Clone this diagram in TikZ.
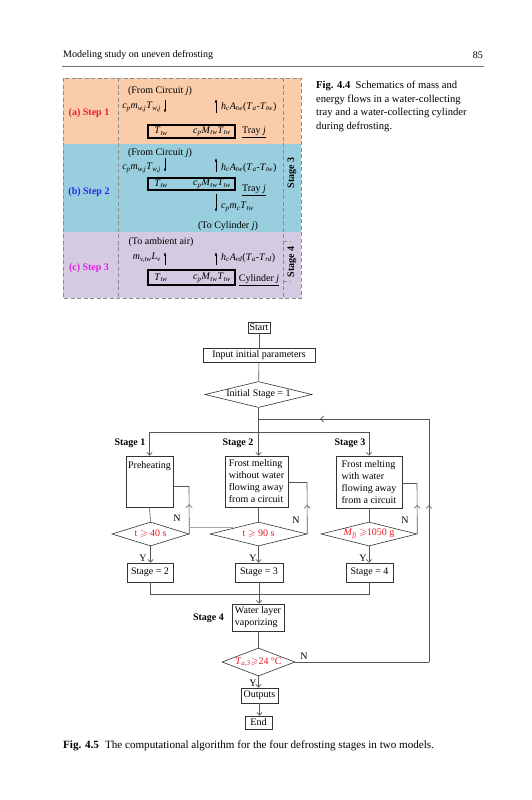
\documentclass[tikz,border=0pt]{standalone}
\usepackage{amsmath,amssymb}
\usepackage{fontspec}
\setmainfont{Liberation Serif}
\usetikzlibrary{shapes.geometric,arrows.meta,decorations.markings}
\definecolor{peach}{RGB}{250,204,170}
\definecolor{skyb}{RGB}{152,206,221}
\definecolor{lilac}{RGB}{212,202,226}
\definecolor{lnc}{RGB}{85,85,85}
\definecolor{dsh}{RGB}{140,140,140}
\definecolor{stepred}{RGB}{235,30,40}
\definecolor{stepblue}{RGB}{40,40,235}
\definecolor{stepmag}{RGB}{230,30,230}
\definecolor{condred}{RGB}{235,25,35}
\newcommand\tenpt{\fontsize{10}{12}\selectfont}
\newcommand\capfont{\fontsize{10.6}{13.5}\selectfont}
\newcommand\capbfont{\fontsize{11.1}{13.5}\selectfont}
\newcommand\hdrfont{\fontsize{10}{12}\selectfont}
\newcommand\vi[1]{\textit{#1}}
\newcommand\sbs[1]{\textsubscript{\textit{#1}}}
\tikzset{
  txt/.style={inner sep=0pt, font=\tenpt},
  fbox/.style={draw=black!80, line width=0.6pt, inner sep=0pt, font=\tenpt},
  dmd/.style={draw=black!80, line width=0.6pt, diamond, inner sep=0pt, aspect=1},
  dtext/.style={txt, text=condred},
  conn/.style={draw=lnc, line width=0.6pt},
  arr/.style={conn, -{Straight Barb[length=3pt,width=5.5pt]}},
  midarr/.style={conn, postaction={decorate}, decoration={markings, mark=at position #1 with {\arrow{Straight Barb[length=3pt,width=6pt]}}}},
  sarr/.style={line width=0.5pt, -{Latex[length=3.5pt,width=2.4pt]}},
  steplab/.style={txt, font=\tenpt\bfseries},
  dline/.style={draw=dsh, line width=0.5pt, dash pattern=on 4pt off 2.5pt},
  mbox/.style={draw=black, line width=1.1pt, inner sep=0pt, minimum width=87pt},
}
\begin{document}
\begin{tikzpicture}[x=1pt,y=-1pt]
\path[use as bounding box, fill=white] (0,0) rectangle (531,800);

% ---------- header ----------
\node[txt, font=\hdrfont, anchor=west] (hdr) at (63,55) {Modeling study on uneven defrosting};
\node[txt, font=\hdrfont, anchor=east] (pg) at (483,55) {85};
\coordinate (rl) at (62,66); \coordinate (rr) at (484,66);
\draw[line width=0.5pt, black!55] (rl) -- (rr);

% ---------- Fig 4.4 ----------
\fill[peach] (63,78) rectangle (301,144);
\fill[skyb] (63,144) rectangle (301,232);
\fill[lilac] (63,232) rectangle (301,298);
\draw[dline] (63,78) rectangle (301,298);
\draw[dline] (118,78) -- (118,298);
\draw[dline] (283,78) -- (283,298);
\draw[dline] (283,241) -- (290,241);
\draw[dline] (283,281) -- (290,281);

% step 1
\node[steplab, text=stepred] (st1) at (89,113) {(a) Step 1};
\node[txt] (fc1) at (160,91) {(From Circuit \vi{j})};
\node[txt, anchor=east] (in1) at (161,107) {\vi{c}\sbs{p}\vi{m}\sbs{w,j}\vi{T}\sbs{w,j}};
\node[txt, anchor=west] (h1) at (221,107) {\vi{h}\sbs{c}\vi{A}\sbs{tw}(\vi{T}\sbs{a}-\vi{T}\sbs{tw})};
\node[mbox, minimum height=13pt] (box1) at (191.5,131.5) {};
\node[txt] (t1) at (161,131.5) {\vi{T}\sbs{tw}};
\node[txt] (c1) at (212,131.5) {\vi{c}\sbs{p}\vi{M}\sbs{tw}\vi{T}\sbs{tw}};
\node[txt, inner ysep=1.5pt] (tr1) at (254,131) {Tray \vi{j}};
\draw[line width=0.5pt] (tr1.south west) -- (tr1.south east);
\coordinate (a1s) at (165,100); \coordinate (a1e) at (165,113);
\coordinate (b1s) at (216,113); \coordinate (b1e) at (216,99);
\draw[sarr] (a1s) -- (a1e);
\draw[sarr] (b1s) -- (b1e);

% step 2
\node[steplab, text=stepblue] (st2) at (89,192) {(b) Step 2};
\node[txt] (fc2) at (160,153) {(From Circuit \vi{j})};
\node[txt, anchor=east] (in2) at (161,168) {\vi{c}\sbs{p}\vi{m}\sbs{w,j}\vi{T}\sbs{w,j}};
\node[txt, anchor=west] (h2) at (221,168) {\vi{h}\sbs{c}\vi{A}\sbs{tw}(\vi{T}\sbs{a}-\vi{T}\sbs{tw})};
\node[mbox, minimum height=12pt] (box2) at (191.5,184) {};
\node[txt] (t2) at (161,184) {\vi{T}\sbs{tw}};
\node[txt] (c2) at (212,184) {\vi{c}\sbs{p}\vi{M}\sbs{tw}\vi{T}\sbs{tw}};
\node[txt, inner ysep=1.5pt] (tr2) at (254,189) {Tray \vi{j}};
\draw[line width=0.5pt] (tr2.south west) -- (tr2.south east);
\node[txt, anchor=west] (o2) at (221,207) {\vi{c}\sbs{p}\vi{m}\sbs{c}\vi{T}\sbs{tw}};
\node[txt] (tc2) at (228,226) {(To Cylinder \vi{j})};
\node[txt, rotate=90, font=\tenpt\bfseries] (sg3) at (292,173) {Stage 3};
\coordinate (a2s) at (165,158); \coordinate (a2e) at (165,172);
\coordinate (b2s) at (216,172); \coordinate (b2e) at (216,158);
\coordinate (e2s) at (216,194); \coordinate (e2e) at (216,212);
\draw[sarr] (a2s) -- (a2e);
\draw[sarr] (b2s) -- (b2e);
\draw[sarr] (e2s) -- (e2e);

% step 3
\node[steplab, text=stepmag] (st3) at (89,268) {(c) Step 3};
\node[txt] (ta3) at (161,242) {(To ambient air)};
\node[txt, anchor=east] (m3) at (161,258) {\vi{m}\sbs{v,tw}\vi{L}\sbs{v}};
\node[txt, anchor=west] (h3) at (221,258) {\vi{h}\sbs{c}\vi{A}\sbs{rd}(\vi{T}\sbs{a}-\vi{T}\sbs{rd})};
\node[mbox, minimum height=15pt] (box3) at (191.5,277.5) {};
\node[txt] (t3) at (161,278) {\vi{T}\sbs{tw}};
\node[txt] (c3) at (212,278) {\vi{c}\sbs{p}\vi{M}\sbs{tw}\vi{T}\sbs{tw}};
\node[txt, inner ysep=1.5pt] (cy3) at (259,279) {Cylinder \vi{j}};
\draw[line width=0.5pt] (cy3.south west) -- (cy3.south east);
\node[txt, rotate=90, font=\tenpt\bfseries] (sg4) at (292,262) {Stage 4};
\coordinate (a3s) at (165,265); \coordinate (a3e) at (165,252);
\coordinate (b3s) at (216,265); \coordinate (b3e) at (216,252);
\draw[sarr] (a3s) -- (a3e);
\draw[sarr] (b3s) -- (b3e);

% caption 4.4
\node[txt, font=\capfont, align=left, anchor=north west] (cap44) at (316,81)
  {\textbf{Fig. 4.4}\hspace{0.25em} Schematics of mass and\\energy flows in a water-collecting\\tray and a water-collecting cylinder\\during defrosting.};

% ---------- Fig 4.5 flowchart ----------
\node[fbox, minimum width=22pt, minimum height=11pt] (start) at (259,327.5) {Start};
\node[fbox, minimum width=112pt, minimum height=14pt] (input) at (259,355) {Input initial parameters};
\node[dmd, minimum width=107pt, minimum height=26pt] (d0) at (258.5,394.5) {};
\node[txt] (d0t) at (d0) {Initial Stage = 1};

\node[fbox, minimum width=47pt, minimum height=51pt] (pre) at (149.5,481.5) {};
\node[txt] (pret) at (149.5,466) {Preheating};
\node[fbox, minimum width=63pt, minimum height=51pt, align=left] (fm2) at (256.5,481.5) {Frost melting\\without water\\flowing away\\from a circuit};
\node[fbox, minimum width=66pt, minimum height=52pt, align=left] (fm3) at (369,482) {Frost melting\\with water\\flowing away\\from a circuit};

\node[steplab] (sl1) at (130,443) {Stage 1};
\node[steplab] (sl2) at (238,443) {Stage 2};
\node[steplab] (sl3) at (350,443) {Stage 3};
\node[steplab] (sl4) at (208.5,618) {Stage 4};

\node[dmd, minimum width=77pt, minimum height=24pt] (d1) at (150.5,534) {};
\node[dtext] (d1t) at (d1) {t $\geqslant$ 40 s};
\node[dmd, minimum width=97pt, minimum height=24pt] (d2) at (258.5,534) {};
\node[dtext] (d2t) at (d2) {t $\geqslant$ 90 s};
\node[dmd, minimum width=96pt, minimum height=24pt] (d3) at (369,534) {};
\node[dtext] (d3t) at (d3) {\vi{M}\sbs{fj} $\geqslant$1050 g};

\node[fbox, minimum width=46pt, minimum height=19pt] (s2) at (150,572.5) {Stage = 2};
\node[fbox, minimum width=48pt, minimum height=19pt] (s3) at (259,572.5) {Stage = 3};
\node[fbox, minimum width=47pt, minimum height=19pt] (s4) at (369.5,572.5) {Stage = 4};

\node[fbox, minimum width=52pt, minimum height=27pt, align=left] (wl) at (258,617.5) {Water layer\\vaporizing};
\node[dmd, minimum width=73pt, minimum height=28pt] (fd) at (258.5,662) {};
\node[dtext] (fdt) at (fd) {\vi{T}\sbs{a,3}$\geqslant$24 °C};
\node[fbox, minimum width=37pt, minimum height=15pt] (out) at (259.5,695.5) {Outputs};
\node[fbox, minimum width=27pt, minimum height=13pt] (endb) at (258.5,722.5) {End};

% Y / N labels
\node[txt] (y1) at (143,558) {Y};
\node[txt] (y2) at (253,558) {Y};
\node[txt] (y3) at (363,558) {Y};
\node[txt] (y4) at (253,683) {Y};
\node[txt] (n1) at (177,518) {N};
\node[txt] (n2) at (296,520) {N};
\node[txt] (n3) at (405,520) {N};
\node[txt] (n4) at (304,656) {N};

% connectors
\coordinate (j0) at (259,419);
\coordinate (a1) at (149.5,432);
\coordinate (a3) at (369,432);
\draw[conn] (start) -- (input);
\draw[conn] (input) -- (d0);
\draw[arr] (d0.south) -- (fm2.north -| d0.south);
\draw[conn] (a1) -- (a3);
\draw[arr] (a1) -- (pre.north);
\draw[arr] (a3) -- (fm3.north);
\draw[conn] (pre.south) -- (d1.north);
\draw[conn] (fm2.south -| d2.north) -- (d2.north);
\draw[conn] (fm3.south) -- (d3.north);

% N loops
\coordinate (k1a) at (189,486); \coordinate (k1b) at (pre.east |- k1a);
\draw[midarr=0.62] (d1.east) -- (k1a);
\draw[conn] (k1a) -- (k1b);
\coordinate (k2a) at (307,482); \coordinate (k2b) at (fm2.east |- k2a);
\draw[midarr=0.56] (d2.east) -- (k2a);
\draw[conn] (k2a) -- (k2b);
\coordinate (k3a) at (417,483); \coordinate (k3b) at (fm3.east |- k3a);
\draw[midarr=0.57] (d3.east) -- (k3a);
\draw[conn] (k3a) -- (k3b);
\coordinate (g1) at (189,527); \coordinate (g2) at (233,527);
\draw[line width=0.5pt, black!35] (g1) -- (g2);

% Y arrows
\draw[arr] (d1.south) -- (s2.north -| d1.south);
\draw[arr] (d2.south) -- (s3.north -| d2.south);
\draw[arr] (d3.south) -- (s4.north -| d3.south);

% join
\coordinate (q1) at (150,594);
\coordinate (q3) at (369.5,594);
\draw[conn] (s2.south) -- (q1) -- (q3) -- (s4.south);
\draw[arr] (s3.south) -- (wl.north -| s3.south);
\draw[conn] (wl.south -| fd.north) -- (fd.north);
\draw[arr] (fd.south) -- (out.north -| fd.south);
\draw[arr] (out.south) -- (endb.north -| out.south);

% return loop
\coordinate (rA) at (429,662);
\coordinate (rB) at (429,419);
\draw[conn] (fd.east) -- (rA);
\draw[midarr=0.646] (rA) -- (rB);
\draw[midarr=0.64] (rB) -- (j0);

% caption 4.5
\node[txt, font=\capbfont, anchor=west] (cap45) at (63,746)
  {\textbf{Fig. 4.5}\hspace{0.3em} The computational algorithm for the four defrosting stages in two models.};
\end{tikzpicture}
\end{document}
